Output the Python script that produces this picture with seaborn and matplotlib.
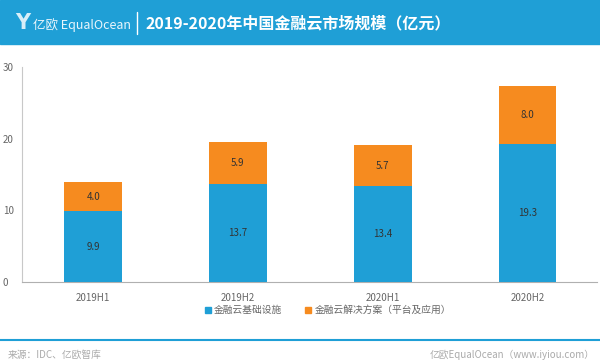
import numpy as np
import pandas as pd
import matplotlib
matplotlib.use("Agg")
import matplotlib.pyplot as plt
import seaborn as sns

# data (亿元)
periods = ["2019H1", "2019H2", "2020H1", "2020H2"]
infra = [9.9, 13.7, 13.4, 19.3]        # 金融云基础设施
solution = [4.0, 5.9, 5.7, 8.0]        # 金融云解决方案（平台及应用）
series_names = ["金融云基础设施", "金融云解决方案（平台及应用）"]
yticks = [0, 10, 20, 30]

title = "2019-2020年中国金融云市场规模（亿元）"
source = "来源：IDC、亿欧智库"
credit = "亿欧EqualOcean（www.iyiou.com）"

BLUE = "#1f9fd6"
ORANGE = "#f68b1f"
GRAY = "#666666"

sns.set_theme(style="white")
plt.rcParams["font.family"] = ["Noto Sans CJK SC", "DejaVu Sans"]

df = pd.DataFrame({"period": periods, "infra": infra, "solution": solution})
df["total"] = df["infra"] + df["solution"]

fig = plt.figure(figsize=(6, 3.64), dpi=100)
ax = fig.add_axes([0.037, 0.225, 0.958, 0.591])

# stacked: draw totals in orange, then the base in blue over them
sns.barplot(data=df, x="period", y="total", color=ORANGE, width=0.4,
            saturation=1, linewidth=0, ax=ax, zorder=2)
sns.barplot(data=df, x="period", y="infra", color=BLUE, width=0.4,
            saturation=1, linewidth=0, ax=ax, zorder=3)

for i, row in df.iterrows():
    ax.text(i, row["infra"] / 2, f"{row['infra']:.1f}", ha="center", va="center",
            fontsize=7, color="#333333", zorder=4)
    ax.text(i, row["infra"] + row["solution"] / 2, f"{row['solution']:.1f}",
            ha="center", va="center", fontsize=7, color="#333333", zorder=4)

ax.set_xlim(-0.49, 3.48)
ax.set_ylim(0, 30)
ax.set_yticks(yticks)
ax.set_xlabel("")
ax.set_ylabel("")
ax.tick_params(axis="both", length=0, labelsize=7, colors=GRAY)
ax.tick_params(axis="x", pad=8)
for lab in ax.get_yticklabels():
    lab.set_horizontalalignment("left")
ax.yaxis.set_tick_params(pad=14)
for s in ["top", "right"]:
    ax.spines[s].set_visible(False)
ax.spines["left"].set_color("#c8c8c8")
ax.spines["bottom"].set_color("#b0b0b0")
ax.spines["left"].set_linewidth(0.8)
ax.spines["bottom"].set_linewidth(0.8)

# legend
handles = [plt.Line2D([], [], marker="s", ls="", color=BLUE, markersize=4),
           plt.Line2D([], [], marker="s", ls="", color=ORANGE, markersize=4)]
fig.legend(handles, series_names, loc="center", bbox_to_anchor=(0.545, 1 - 310 / 364),
           ncol=2, frameon=False, fontsize=7, labelcolor=GRAY, handletextpad=0.1,
           columnspacing=2.2, handlelength=1)

# header band
fig.patches.append(plt.Rectangle((0, 1 - 44 / 364), 1, 44 / 364, transform=fig.transFigure,
                                 color=BLUE, zorder=0))
fig.text(0.025, 1 - 23 / 364, "Y", color="#d8eef8", fontsize=15, fontweight="bold",
         va="center", ha="left", family="DejaVu Sans")
fig.text(0.055, 1 - 25 / 364, "亿欧 EqualOcean", color="#eaf6fc", fontsize=9,
         va="center", ha="left")
fig.add_artist(plt.Line2D([137 / 600, 137 / 600], [1 - 12 / 364, 1 - 34 / 364],
                          color="white", lw=1, transform=fig.transFigure))
fig.text(146 / 600, 1 - 23 / 364, title, color="white", fontsize=11.5,
         fontweight="bold", va="center", ha="left")

# footer
fig.add_artist(plt.Line2D([0, 1], [1 - 340 / 364, 1 - 340 / 364], color=BLUE, lw=1.5,
                          transform=fig.transFigure))
fig.text(8 / 600, 1 - 355 / 364, source, color="#aaaaaa", fontsize=7, va="center")
fig.text(595 / 600, 1 - 355 / 364, credit, color="#aaaaaa", fontsize=7, va="center",
         ha="right")

fig.savefig("out.png", dpi=100, facecolor="white")
